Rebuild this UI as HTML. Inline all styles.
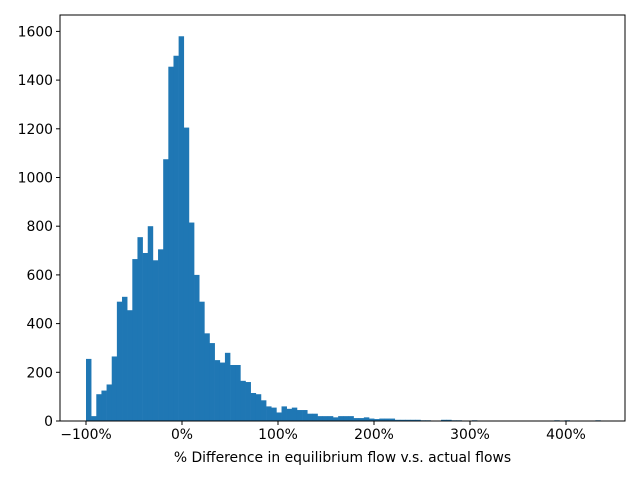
<!DOCTYPE html>
<html><head><meta charset="utf-8"><style>
body{margin:0;background:#fff;font-family:"Liberation Sans","DejaVu Sans",sans-serif;}
svg text{font-family:"DejaVu Sans","Liberation Sans",sans-serif;font-size:13.9px;fill:#000}
</style></head><body>
<svg id="c" width="640" height="480"></svg>
<script>
const binStart = -100;
const binWidth = 5.36;
const counts = [255,20,110,125,150,265,490,510,455,665,755,690,800,660,705,1075,1455,1500,1580,1205,815,600,490,360,320,250,240,280,230,230,165,160,115,110,85,60,55,35,60,50,55,45,45,30,30,20,20,20,15,20,20,20,12,12,15,10,8,10,10,10,5,5,5,5,5,3,3,2,2,5,5,3,3,2,0,3,0,2,2,2,0,0,0,0,0,0,0,0,0,0,0,3,0,3,0,0,0,0,0,3];
const xTicks = [-100,0,100,200,300,400];
const xTickLabels = ['−100%','0%','100%','200%','300%','400%'];
const yTicks = [0,200,400,600,800,1000,1200,1400,1600];
const ns='http://www.w3.org/2000/svg', svg=document.getElementById('c');
const L=60,R=625,T=15,B=421;
const xs=v=>182+v*0.96;
const ys=v=>B-v*(389.6/1600);
function mk(t,a,p){const e=document.createElementNS(ns,t);for(const k in a)e.setAttribute(k,a[k]);(p||svg).appendChild(e);return e;}
const bars=mk('g',{});


counts.forEach((c,i)=>{if(!c)return;const x0=xs(binStart+i*binWidth),x1=xs(binStart+(i+1)*binWidth);
const r=mk('rect',{x:x0,y:ys(c),width:x1-x0+0.3,height:B-ys(c),fill:'#1f77b4'},bars);

});
const fr=mk('rect',{x:L,y:T,width:R-L,height:B-T,fill:'none',stroke:'#000','stroke-width':1});


xTicks.forEach((v,i)=>{const x=xs(v);mk('line',{x1:x,x2:x,y1:B,y2:B+4,stroke:'#000'});
const t=mk('text',{x:x,y:B+18,'text-anchor':'middle'});t.textContent=xTickLabels[i];

});
yTicks.forEach(v=>{const y=ys(v);mk('line',{x1:L-4,x2:L,y1:y,y2:y,stroke:'#000'});
const t=mk('text',{x:L-7,y:y+5,'text-anchor':'end'});t.textContent=v;

});
const xl=mk('text',{x:342.5,y:462,'text-anchor':'middle'});xl.textContent='% Difference in equilibrium flow v.s. actual flows';


</script>
</body></html>
